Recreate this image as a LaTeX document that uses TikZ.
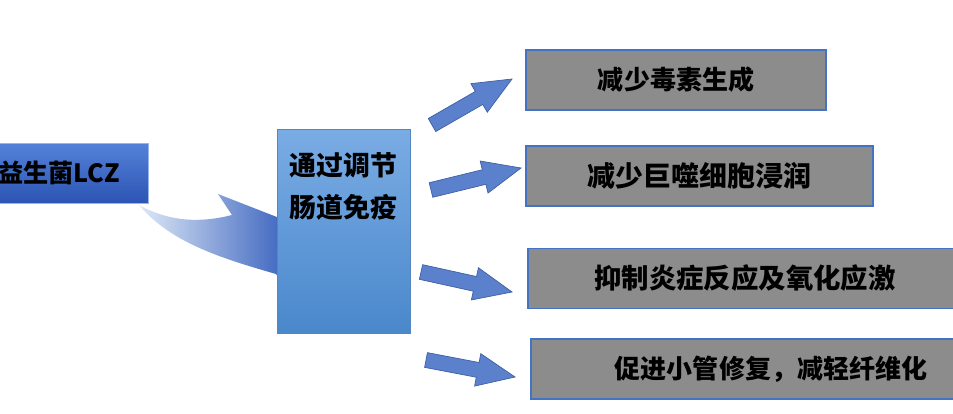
\documentclass[tikz,border=0pt]{standalone}
\usepackage{fontspec}
\newfontfamily\cjk{Noto Sans CJK SC}
\usetikzlibrary{calc}
\definecolor{boxgray}{RGB}{140,140,140}
\definecolor{boxline}{RGB}{68,114,196}
\definecolor{arrowblue}{RGB}{91,128,204}
\definecolor{arrowline}{RGB}{62,96,165}
\definecolor{srctop}{RGB}{84,130,216}
\definecolor{srcbot}{RGB}{44,84,180}
\definecolor{guttop}{RGB}{122,172,228}
\definecolor{gutbot}{RGB}{74,136,204}
\tikzset{
  source/.style={top color=srctop, bottom color=srcbot, draw=srctop!60!white, line width=0.5pt,
    minimum width=3.56cm, minimum height=1.2cm, font=\cjk\bfseries\fontsize{14.3}{16}\selectfont},
  gutbox/.style={top color=guttop, bottom color=gutbot, draw=gutbot!80!gray, line width=0.5pt,
    minimum width=2.66cm, minimum height=4.08cm},
  effect/.style={fill=boxgray, draw=boxline, line width=0.8pt, minimum height=1.2cm},
  blockarrow/.style={fill=arrowblue, draw=arrowline, line width=0.4pt, line join=miter}
}
\begin{document}
\begin{tikzpicture}[x=0.02cm,y=-0.02cm]
\useasboundingbox (0,0) rectangle (953,413);
\clip (0,0) rectangle (953,413);
% The curved arrow goes under both boxes, so draw it first
\shade[left color={rgb,255:red,222;green,233;blue,247}, right color={rgb,255:red,40;green,84;blue,184}]
  (139,205) .. controls (170,222) and (200,223) .. (232,215)
  -- (218,194) -- (305,228) -- (286,288) -- (276,274)
  .. controls (220,258) and (170,242) .. (139,205) -- cycle;
% The probiotic, cut by the left edge
\node (lcz) at (59,173) [source] {益生菌LCZ};
% The middle box, text sits at its top
\node (gut) at (343.5,231) [gutbox] {};
\node (gutlabel) at (343.5,186.5) [font=\cjk\bfseries\fontsize{15.3}{24.4}\selectfont, align=center] {通过调节\\肠道免疫};
% The four effects on the right
\foreach \name/\cx/\cy/\w/\fs/\txt in {
  toxin/676/80/6.0/14.8/减少毒素生成,
  macro/699.5/176/6.94/15.9/减少巨噬细胞浸润,
  inflam/745/278.5/8.68/15.6/抑制炎症反应及氧化应激,
  tubule/771/369/9.6/14.8/促进小管修复，减轻纤维化}
{
  \node (\name) at (\cx,\cy) [effect, minimum width=\w cm, font=\cjk\bfseries\fontsize{\fs}{\fs}\selectfont] {\txt};
}
% Block arrows from the middle box towards the effects
\foreach \i/\tx/\ty/\hx/\hy in {1/432/125/512/79, 2/431/190/521/168, 3/421/272/512/292, 4/426/360/515/377}
{
  \coordinate (t\i) at (\tx,\ty);
  \coordinate (h\i) at (\hx,\hy);
  \coordinate (b\i) at ($(h\i)!0.76cm!(t\i)$); % base of the head
  \filldraw[blockarrow] ($(t\i)!0.15cm!90:(h\i)$) -- ($(b\i)!0.15cm!90:(h\i)$)
    -- ($(b\i)!0.33cm!90:(h\i)$) -- (h\i) -- ($(b\i)!0.33cm!-90:(h\i)$)
    -- ($(b\i)!0.15cm!-90:(h\i)$) -- ($(t\i)!0.15cm!-90:(h\i)$) -- cycle;
}
\end{tikzpicture}
\end{document}
